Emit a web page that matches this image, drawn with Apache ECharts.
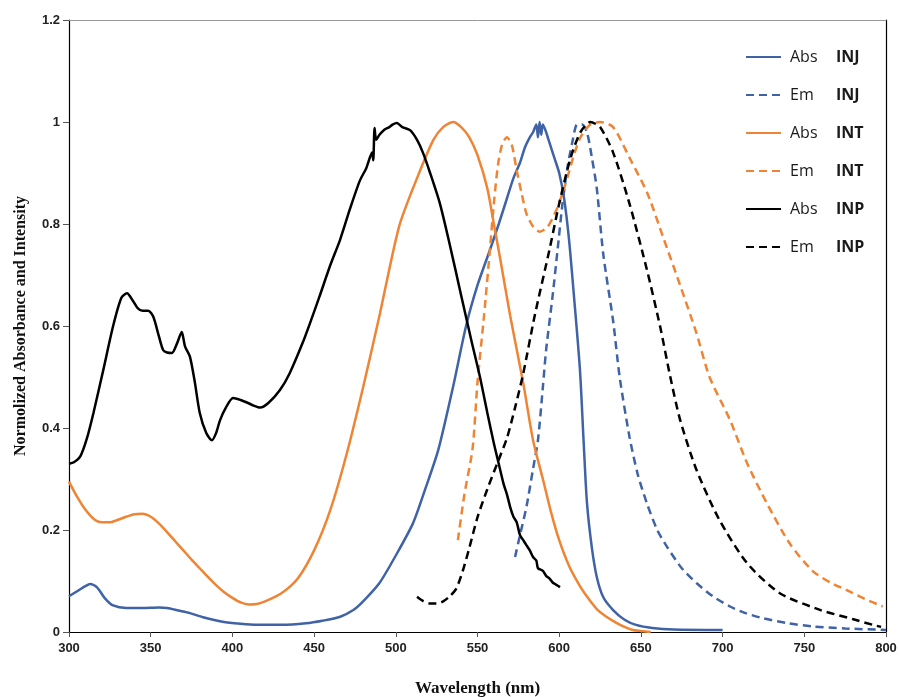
<!DOCTYPE html>
<html>
<head>
<meta charset="utf-8">
<script src="https://cdn.jsdelivr.net/npm/echarts@6/dist/echarts.min.js"></script>
<style>
    html, body {margin: 0; padding: 0; background: #fff;}
    #spectra {width: 899px; height: 697px;}
</style>
</head>
<body>
<div id="spectra"></div>
<script>
// 波长刻度
var xTicks = [300, 350, 400, 450, 500, 550, 600, 650, 700, 750, 800];

// 各曲线 [波长, 归一化值]
var absINJ = [[300,0.07],[305,0.08],[310,0.09],[313,0.094],[317,0.088],[322,0.066],[327,0.052],[335,0.047],[345,0.047],[355,0.048],[360,0.047],[367,0.042],[374,0.037],[382,0.029],[394,0.02],[405,0.016],[415,0.014],[430,0.014],[445,0.017],[455,0.022],[466,0.03],[474,0.043],[480,0.06],[490,0.096],[500,0.15],[510.5,0.213],[518,0.28],[526,0.357],[535,0.48],[543,0.6],[550,0.68],[557.6,0.749],[563,0.8],[568,0.85],[572,0.89],[576,0.92],[579,0.95],[582,0.97],[584,0.98],[586,0.995],[587,0.97],[588,1.0],[589,0.975],[590,0.995],[592,0.98],[594,0.96],[597,0.93],[600,0.9],[603,0.85],[606,0.77],[609,0.66],[612.7,0.514],[615,0.37],[617,0.253],[620,0.165],[623,0.108],[627,0.068],[633,0.043],[640,0.024],[647,0.014],[657,0.008],[670,0.005],[700,0.004]];
var emINJ = [[573,0.147],[576,0.19],[580,0.246],[584,0.32],[587,0.376],[590,0.48],[592,0.553],[596,0.66],[599,0.749],[602,0.84],[605,0.91],[608,0.96],[611,0.995],[614,0.995],[617,0.98],[620,0.93],[623,0.87],[627,0.74],[633,0.61],[637,0.5],[643,0.383],[648,0.31],[653.6,0.253],[660,0.2],[666,0.167],[675,0.125],[684,0.096],[694,0.07],[704.5,0.05],[714,0.037],[724.7,0.027],[740,0.017],[755,0.011],[775,0.007],[800,0.004]];
var absINT = [[300,0.295],[305,0.265],[310,0.24],[315,0.222],[320,0.215],[325,0.215],[330,0.22],[335,0.226],[340,0.231],[345,0.232],[350,0.226],[355,0.213],[360,0.196],[365,0.178],[370,0.16],[375,0.142],[380,0.125],[385,0.108],[390,0.092],[395,0.078],[400,0.067],[405,0.058],[410,0.054],[415,0.055],[420,0.06],[430,0.076],[440,0.105],[450,0.16],[460,0.24],[470,0.35],[480,0.48],[490,0.62],[502,0.795],[513,0.89],[523,0.965],[529,0.99],[535,1.0],[540,0.99],[545,0.97],[550,0.935],[556,0.87],[560,0.8],[564,0.73],[570,0.62],[578,0.488],[584,0.376],[590,0.3],[595,0.235],[600,0.18],[606,0.13],[612.7,0.09],[618,0.065],[623,0.045],[628,0.032],[635,0.018],[640,0.01],[645,0.004],[650,0.002],[656,0]];
var emINT = [[538,0.18],[542,0.27],[547,0.36],[550,0.49],[554,0.62],[557.6,0.75],[560,0.84],[562.5,0.915],[565,0.955],[568,0.97],[571,0.955],[574,0.905],[577,0.86],[580,0.82],[584,0.795],[588,0.785],[593,0.795],[598.6,0.83],[604,0.88],[608.5,0.93],[613,0.97],[619,0.995],[625,1.0],[633,0.99],[643,0.93],[654,0.86],[663.5,0.775],[674,0.68],[684,0.586],[692,0.5],[704.5,0.416],[715,0.331],[727,0.253],[741,0.174],[755,0.12],[766,0.097],[776,0.082],[787,0.065],[798,0.05]];
var absINP = [[300,0.33],[303,0.333],[307,0.345],[311,0.38],[315,0.43],[321,0.514],[327,0.6],[332,0.655],[335.5,0.664],[339,0.65],[342,0.635],[345,0.63],[348.5,0.63],[351.6,0.618],[355,0.58],[357.6,0.553],[360,0.548],[363,0.547],[366,0.565],[369,0.588],[371,0.56],[374,0.54],[377,0.49],[380,0.43],[384,0.39],[387.5,0.376],[390,0.39],[392.4,0.415],[396,0.44],[400.4,0.459],[405,0.455],[408.9,0.45],[413,0.444],[417,0.44],[422,0.449],[429,0.474],[435,0.507],[443,0.567],[448,0.61],[453,0.655],[460,0.72],[466,0.77],[472,0.83],[478,0.885],[482,0.91],[485.5,0.94],[486.2,0.925],[487,0.988],[488,0.965],[490,0.975],[493,0.985],[496,0.99],[498,0.995],[500.7,0.998],[504,0.99],[508.7,0.984],[513,0.965],[516.6,0.94],[521,0.9],[527,0.84],[533,0.76],[540,0.66],[546,0.575],[551.5,0.5],[556,0.43],[560,0.37],[563,0.33],[566,0.29],[568,0.27],[570,0.245],[572,0.226],[574,0.215],[576,0.19],[578,0.18],[580,0.17],[582,0.16],[584,0.147],[586,0.14],[587,0.125],[590,0.12],[592,0.11],[594,0.105],[596,0.097],[598,0.093],[600.5,0.088]];
var emINP = [[513,0.069],[517,0.06],[521,0.056],[525,0.056],[529,0.06],[533,0.07],[537,0.085],[541,0.12],[545,0.165],[550,0.225],[556,0.28],[562,0.33],[568,0.38],[573,0.44],[578,0.507],[585,0.62],[594,0.749],[600,0.84],[607,0.93],[613,0.98],[619,1.0],[625,0.99],[633,0.94],[643,0.84],[653.7,0.71],[661.7,0.6],[668,0.5],[674,0.416],[684,0.318],[698,0.22],[715,0.135],[735,0.076],[760,0.043],[780,0.025],[792,0.014],[797,0.01]];

var blue = '#3F63A6';
var orange = '#EE8434';

function makeLine(name, data, color, dashed) {
    return {
        name: name,
        type: 'line',
        data: data,
        showSymbol: false,
        symbol: 'none',
        smooth: 0.25,
        animation: false,
        lineStyle: {
            color: color,
            width: 2.5,
            type: dashed ? [8, 5] : 'solid'
        },
        itemStyle: {color: color}
    };
}

var chart = echarts.init(document.getElementById('spectra'));
var option = {
    backgroundColor: '#fff',
    animation: false,
    grid: {
        left: 69,
        right: 13,
        top: 20,
        bottom: 65,
        outerBoundsMode: 'none',
        containLabel: false
    },
    legend: {
        orient: 'vertical',
        left: 740,
        top: 44,
        itemWidth: 35,
        itemHeight: 14,
        itemGap: 22,
        itemStyle: {opacity: 0},
        textStyle: {
            fontFamily: 'Open Sans',
            fontSize: 16,
            color: '#1a1a1a',
            rich: {
                a: {fontFamily: 'Open Sans', fontSize: 16, color: '#1a1a1a', width: 46, padding: [0, 0, 0, 4]},
                b: {fontFamily: 'Open Sans', fontSize: 16, fontWeight: 'bold', color: '#1a1a1a'}
            }
        },
        formatter: function (name) {
            var parts = name.split(' ');
            return '{a|' + parts[0] + '}{b|' + parts[1] + '}';
        },
        data: ['Abs INJ', 'Em INJ', 'Abs INT', 'Em INT', 'Abs INP', 'Em INP']
    },
    xAxis: [{
        type: 'value',
        min: xTicks[0],
        max: xTicks[xTicks.length - 1],
        interval: 50,
        name: 'Wavelength (nm)',
        nameLocation: 'middle',
        nameGap: 48,
        nameTextStyle: {fontFamily: 'Liberation Serif', fontWeight: 'bold', fontSize: 17, color: '#111'},
        axisLine: {onZero: false, lineStyle: {color: '#000', width: 1.2}},
        axisTick: {show: true, length: 5, lineStyle: {color: '#555'}},
        axisLabel: {fontFamily: 'Liberation Sans', fontWeight: 'bold', fontSize: 13, color: '#222', margin: 10},
        splitLine: {show: false}
    }, {
        type: 'value',
        position: 'top',
        min: 300,
        max: 800,
        axisLine: {show: true, onZero: false, lineStyle: {color: '#999', width: 1}},
        axisTick: {show: false},
        axisLabel: {show: false},
        splitLine: {show: false}
    }],
    yAxis: [{
        type: 'value',
        min: 0,
        max: 1.2,
        interval: 0.2,
        name: 'Normolized Absorbance and Intensity',
        nameLocation: 'middle',
        nameGap: 40,
        nameTextStyle: {fontFamily: 'Liberation Serif', fontWeight: 'bold', fontSize: 16, color: '#111'},
        axisLine: {show: true, onZero: false, lineStyle: {color: '#000', width: 1.2}},
        axisTick: {show: true, length: 6, lineStyle: {color: '#555'}},
        axisLabel: {
            fontFamily: 'Liberation Sans', fontWeight: 'bold', fontSize: 13, color: '#222', margin: 9,
            formatter: function (v) { return String(Math.round(v * 10) / 10); }
        },
        splitLine: {show: false}
    }, {
        type: 'value',
        position: 'right',
        min: 0,
        max: 1.2,
        axisLine: {show: true, onZero: false, lineStyle: {color: '#000', width: 1.2}},
        axisTick: {show: false},
        axisLabel: {show: false},
        splitLine: {show: false}
    }],
    series: [
        makeLine('Abs INJ', absINJ, blue, false),
        makeLine('Em INJ', emINJ, blue, true),
        makeLine('Abs INT', absINT, orange, false),
        makeLine('Em INT', emINT, orange, true),
        makeLine('Abs INP', absINP, '#000', false),
        makeLine('Em INP', emINP, '#000', true)
    ]
};
chart.setOption(option);
</script>
</body>
</html>
